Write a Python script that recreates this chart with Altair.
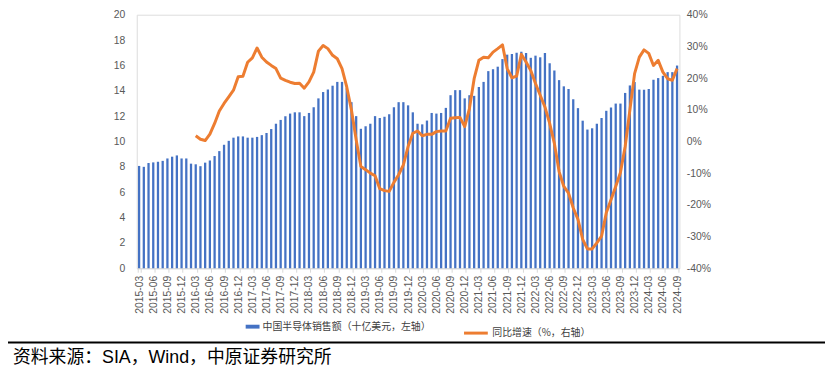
import altair as alt
import pandas as pd

# Monthly categories 2015-03 .. 2024-09
all_months = [f"{y}-{m:02d}" for y in range(2015, 2025) for m in range(1, 13)]
months = all_months[2:2 + 115]
tick_labels = months[::3]

# China semiconductor sales (USD bn, left axis)
sales = [
    8.07, 8.00, 8.30, 8.35, 8.40, 8.47, 8.66, 8.80, 8.90, 8.66, 8.66, 8.25,
    8.20, 8.05, 8.33, 8.50, 8.85, 9.24, 9.74, 10.05, 10.30, 10.40, 10.40, 10.30,
    10.30, 10.36, 10.50, 10.67, 10.98, 11.40, 11.70, 11.99, 12.20, 12.30, 12.30, 12.00,
    12.25, 12.70, 13.40, 13.90, 14.10, 14.40, 14.70, 14.70, 14.20, 13.10, 12.00, 11.00,
    11.20, 11.40, 12.00, 11.85, 11.95, 12.15, 12.70, 13.10, 13.10, 12.85, 12.30, 11.40,
    11.35, 11.65, 12.25, 12.20, 12.25, 12.65, 13.65, 14.05, 14.05, 13.40, 13.65, 13.60,
    14.30, 14.70, 15.55, 15.70, 15.90, 16.50, 16.85, 16.90, 17.00, 17.08, 16.98, 16.60,
    16.77, 16.64, 16.98, 16.17, 15.60, 14.84, 14.35, 14.14, 13.33, 12.63, 11.64, 10.94,
    11.04, 11.40, 11.85, 12.42, 12.68, 12.99, 12.99, 13.83, 14.42, 14.69, 14.09, 14.09,
    14.14, 14.87, 15.00, 15.18, 15.47, 15.47, 15.99,
]

# YoY growth (%, right axis), starts 2016-03
yoy_values = [
    1.8, 0.7, 0.3, 2.3, 5.7, 9.6, 12.0, 14.1, 16.2, 20.4, 20.6, 25.0,
    26.4, 29.5, 26.6, 25.1, 24.0, 23.0, 20.0, 19.3, 18.7, 18.3, 18.4, 16.8,
    18.8, 21.9, 28.5, 30.3, 29.3, 27.2, 26.1, 23.0, 17.2, 9.9, 0.5, -7.9,
    -8.9, -10.0, -10.8, -14.9, -15.5, -15.75, -12.9, -10.5, -7.4, -1.6, 2.6, 3.3,
    1.8, 2.25, 2.25, 3.1, 3.3, 3.3, 7.3, 7.5, 7.6, 4.7, 10.4, 19.8,
    25.6, 26.6, 26.4, 28.2, 29.3, 30.5, 23.0, 20.1, 20.6, 27.5, 25.1, 22.4,
    18.3, 14.6, 10.9, 5.7, -0.6, -9.5, -14.2, -16.3, -21.0, -24.6, -30.9, -33.9,
    -33.9, -32.0, -29.9, -22.5, -18.4, -14.2, -9.8, -1.6, 9.9, 21.4, 26.6, 28.9,
    27.8, 24.0, 25.6, 21.9, 19.8, 19.3, 23.0,
]
yoy = [None] * 12 + yoy_values

bar_name = "中国半导体销售额（十亿美元，左轴）"
line_name = "同比增速（%，右轴）"
source_text = "资料来源：SIA，Wind，中原证券研究所"

df = pd.DataFrame({"month": months, "sales": sales, "yoy": yoy})
df["bar_name"] = bar_name
df["line_name"] = line_name

LATIN = "Liberation Sans"
CJK = "Noto Sans CJK SC"
MIXED = "Liberation Sans, Noto Sans CJK SC"
GRAY = "#595959"

x_enc = alt.X(
    "month:O",
    sort=months,
    title=None,
    scale=alt.Scale(paddingInner=0.5, paddingOuter=0.25),
    axis=alt.Axis(
        values=tick_labels,
        labelAngle=-90,
        labelFont=LATIN,
        labelFontSize=10.5,
        labelColor=GRAY,
        labelPadding=3,
        domainColor="#d9d9d9",
        tickColor="#d9d9d9",
        tickSize=4,
        tickBand="extent",
        grid=False,
    ),
)

bars = alt.Chart(df).mark_bar(size=2.3, color="#4472C4").encode(
    x=x_enc,
    y=alt.Y(
        "sales:Q",
        title=None,
        scale=alt.Scale(domain=[0, 20], nice=False),
        axis=alt.Axis(
            values=list(range(0, 21, 2)),
            labelFont=LATIN,
            labelFontSize=10.5,
            labelColor=GRAY,
            labelPadding=12,
            domain=False,
            ticks=False,
            grid=False,
        ),
    ),
    color=alt.Color(
        "bar_name:N",
        scale=alt.Scale(range=["#4472C4"]),
        legend=alt.Legend(
            title=None,
            orient="none",
            legendX=110,
            legendY=308,
            symbolType="M-1,-0.28H1V0.28H-1Z",
            symbolSize=196,
            symbolStrokeWidth=0,
            symbolOpacity=1,
            labelFont=CJK,
            labelFontSize=10,
            labelColor="#404040",
            labelOffset=3,
            labelLimit=400,
        ),
    ),
)

line = alt.Chart(df).transform_filter("datum.yoy != null").mark_line(
    strokeWidth=3, strokeJoin="round"
).encode(
    x=x_enc,
    y=alt.Y(
        "yoy:Q",
        title=None,
        scale=alt.Scale(domain=[-40, 40], nice=False),
        axis=alt.Axis(
            orient="right",
            values=list(range(-40, 41, 10)),
            labelExpr="datum.value + '%'",
            labelFont=LATIN,
            labelFontSize=10.5,
            labelColor=GRAY,
            labelPadding=7,
            domain=False,
            ticks=False,
            grid=False,
        ),
    ),
    stroke=alt.Stroke(
        "line_name:N",
        scale=alt.Scale(range=["#ED7D31"]),
        legend=alt.Legend(
            title=None,
            orient="none",
            legendX=329,
            legendY=308,
            symbolType="stroke",
            symbolSize=576,
            symbolStrokeWidth=3,
            labelFont=CJK,
            labelFontSize=10,
            labelColor="#404040",
            labelOffset=3,
            labelLimit=400,
        ),
    ),
)

deco = pd.DataFrame({"t": [source_text]})
sep_rule = alt.Chart(deco).mark_rule(color="#000000", strokeWidth=2).encode(
    x=alt.value(-130), x2=alt.value(695), y=alt.value(331)
)
source = alt.Chart(deco).mark_text(
    align="left", baseline="middle", font=MIXED, fontSize=18, color="#000000"
).encode(text="t:N", x=alt.value(-125), y=alt.value(347))

chart = (
    alt.layer(bars, line, sep_rule, source)
    .resolve_scale(y="independent", color="independent", stroke="independent")
    .properties(
        width=548,
        height=256,
        autosize=alt.AutoSizeParams(type="none"),
        padding={"left": 130, "top": 5, "right": 147, "bottom": 103},
    )
    .configure_view(stroke=None)
    .configure(background="white")
)

chart.save("out.html", embed_options={"renderer": "svg", "actions": False})
